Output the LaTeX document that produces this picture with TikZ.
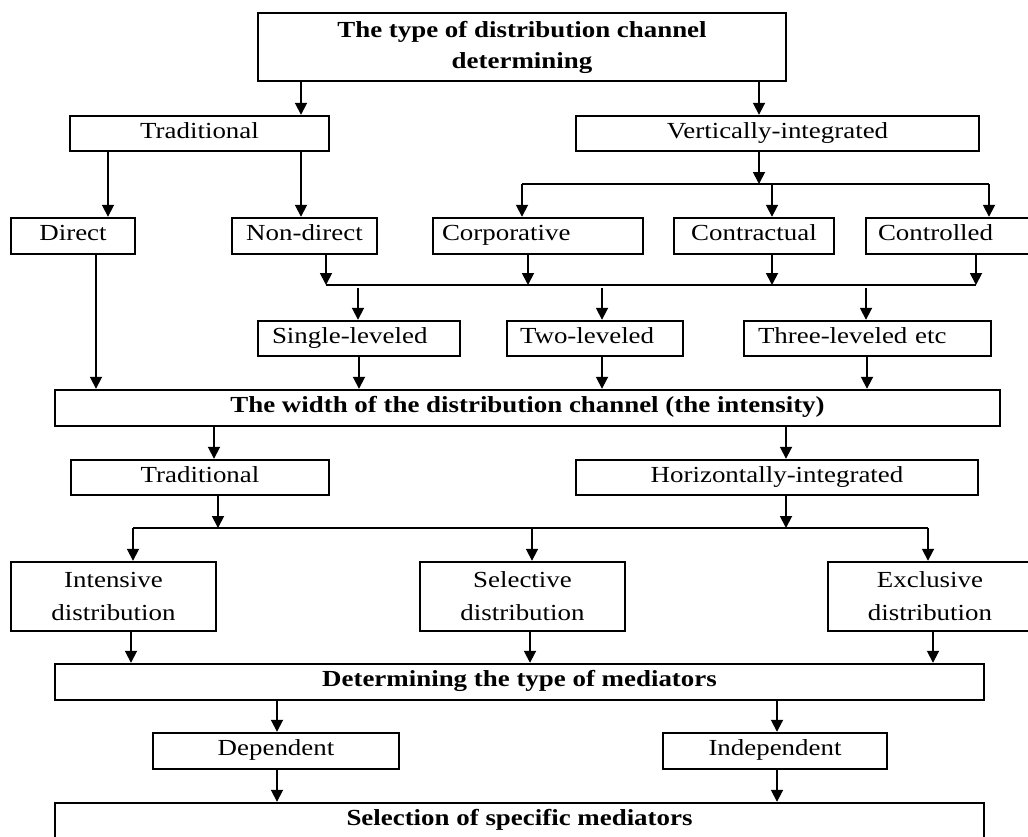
\documentclass[tikz,border=0pt]{standalone}
\usepackage{fontspec}
\setmainfont{Liberation Serif}[FakeStretch=1.17]
\usetikzlibrary{arrows.meta}
\tikzset{
  frame/.style={draw, line width=1.2pt, inner sep=0pt, align=center,
    font=\fontsize{11.5}{16.5}\selectfont},
  box/.style={frame, text height=8pt, text depth=3.5pt},
  head/.style={box, font=\fontsize{11.5}{16}\selectfont\bfseries},
  arr/.style={line width=0.9pt, -{Triangle[width=6pt,length=6pt]}},
  bus/.style={line width=0.9pt}
}
\begin{document}
\begin{tikzpicture}[x=0.5pt,y=-0.5pt]
    \useasboundingbox (0,0) rectangle (1028,836);
    % Type of the channel
    \node[frame, font=\fontsize{11.5}{15.5}\selectfont\bfseries, minimum width=264pt, minimum height=34pt] (top) at (522,47) {The type of distribution channel\\determining};
    \node[box, minimum width=129.5pt, minimum height=17.5pt] (trad1) at (199.5,133.5) {Traditional};
    \node[box, minimum width=201.5pt, minimum height=17.5pt] (vert) at (777.5,133.5) {Vertically-integrated};
    \node[box, minimum width=62pt, minimum height=18pt] (direct) at (73,236) {Direct};
    \node[box, minimum width=72.5pt, minimum height=18pt] (nondir) at (304.5,236) {Non-direct};
    \node[box, align=left, text width=96pt, inner xsep=4.5pt, minimum height=18pt] (corp) at (538,236) {Corporative};
    \node[box, minimum width=80pt, minimum height=18pt] (contr) at (754,236) {Contractual};
    \node[box, align=left, text width=70pt, inner xsep=6pt, minimum height=18pt] (ctrl) at (948,236) {Controlled};
    % Levels
    \node[box, align=left, text width=87pt, inner xsep=7pt, minimum height=17.5pt] (single) at (359,338.5) {Single-leveled};
    \node[box, align=left, text width=75pt, inner xsep=6.5pt, minimum height=17.5pt] (two) at (595,338.5) {Two-leveled};
    \node[box, align=left, text width=109.5pt, inner xsep=7pt, minimum height=17.5pt] (three) at (867.5,338.5) {Three-leveled etc};
    % Width of the channel
    \node[head, minimum width=472.5pt, minimum height=18pt] (width) at (527.5,408) {The width of the distribution channel (the intensity)};
    \node[box, minimum width=129pt, minimum height=17.5pt] (trad2) at (200,477.5) {Traditional};
    \node[box, minimum width=201pt, minimum height=17.5pt] (horiz) at (777,477.5) {Horizontally-integrated};
    \node[frame, minimum width=102.5pt, minimum height=34.5pt] (intens) at (113.5,596.5) {Intensive\\distribution};
    \node[frame, minimum width=102.5pt, minimum height=34.5pt] (select) at (522.5,596.5) {Selective\\distribution};
    \node[frame, minimum width=102pt, minimum height=34.5pt] (excl) at (930,596.5) {Exclusive\\distribution};
    % Mediators
    \node[head, minimum width=464.5pt, minimum height=18pt] (det) at (519.5,682) {Determining the type of mediators};
    \node[box, minimum width=123pt, minimum height=18pt] (dep) at (276,751) {Dependent};
    \node[box, minimum width=112pt, minimum height=18pt] (indep) at (775,751) {Independent};
    \node[head, minimum width=464.5pt, minimum height=18pt] (sel) at (519.5,821) {Selection of specific mediators};

    % top splits
    \draw[arr] (top.south -| 301,0) -- (trad1.north -| 301,0);
    \draw[arr] (top.south -| 759,0) -- (vert.north -| 759,0);
    \draw[arr] (trad1.south -| 108,0) -- (direct.north -| 108,0);
    \draw[arr] (trad1.south -| 301,0) -- (nondir.north -| 301,0);
    % vertically-integrated branch
    \coordinate (busA) at (522,184);
    \draw[arr] (vert.south -| 759,0) -- (busA -| 759,0);
    \draw[bus] (busA) -- (busA -| 989,0);
    \foreach \n/\x in {corp/522, contr/772, ctrl/989}
        \draw[arr] (busA -| \x,0) -- (\n.north -| \x,0);
    % to the levels
    \coordinate (busB) at (326,285);
    \foreach \n/\x in {nondir/326, corp/528, contr/772, ctrl/976}
        \draw[arr] (\n.south -| \x,0) -- (busB -| \x,0);
    \draw[bus] (busB) -- (busB -| 976,0);
    \foreach \n/\x in {single/358, two/602, three/866}
        \draw[arr] ([yshift=-1.5pt]busB -| \x,0) -- (\n.north -| \x,0);
    % into the width
    \foreach \n/\x in {direct/96, single/359, two/602, three/867}
        \draw[arr] (\n.south -| \x,0) -- (width.north -| \x,0);
    \draw[arr] (width.south -| 214,0) -- (trad2.north -| 214,0);
    \draw[arr] (width.south -| 786,0) -- (horiz.north -| 786,0);
    \coordinate (busC) at (133,528);
    \draw[arr] (trad2.south -| 218,0) -- (busC -| 218,0);
    \draw[arr] (horiz.south -| 786,0) -- (busC -| 786,0);
    \draw[bus] (busC) -- (busC -| 928,0);
    \foreach \n/\x in {intens/133, select/532, excl/928}
        \draw[arr] (busC -| \x,0) -- (\n.north -| \x,0);
    % mediators
    \foreach \n/\x in {intens/131, select/530, excl/933}
        \draw[arr] (\n.south -| \x,0) -- (det.north -| \x,0);
    \draw[arr] (det.south -| 277,0) -- (dep.north -| 277,0);
    \draw[arr] (det.south -| 777,0) -- (indep.north -| 777,0);
    \draw[arr] (dep.south -| 277,0) -- (sel.north -| 277,0);
    \draw[arr] (indep.south -| 777,0) -- (sel.north -| 777,0);
\end{tikzpicture}
\end{document}
